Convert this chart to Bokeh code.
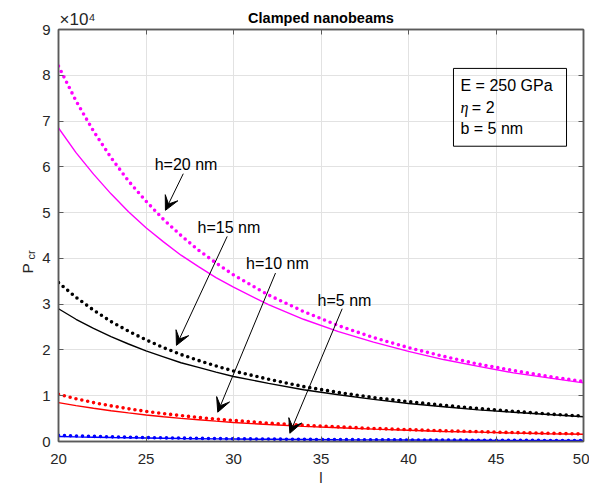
import numpy as np
from bokeh.plotting import figure
from bokeh.models import Range1d, FixedTicker, Label, Arrow, VeeHead, BoxAnnotation, Title, LinearAxis
from bokeh.embed import file_html
from bokeh.resources import INLINE

# ---------------- data ----------------
L = [20, 21, 22, 23, 24, 25, 26, 27, 28, 29, 30, 32, 34, 36, 38, 40, 42, 44, 46, 48, 50]

h20_dotted = [82000, 74400, 67800, 62000, 56900, 52500, 48500, 45000, 41800, 39000, 36400,
              32000, 28400, 25300, 22700, 20500, 18600, 16900, 15500, 14200, 13100]
h20_solid = [68500, 63100, 58400, 54100, 50200, 46700, 43600, 40700, 38200, 35800, 33700,
             29900, 26700, 24000, 21700, 19700, 17900, 16400, 15000, 13900, 12800]

h15_dotted = [34700, 31500, 28700, 26200, 24100, 22200, 20500, 19000, 17700, 16500, 15400,
              13600, 12000, 10700, 9600, 8700, 7900, 7200, 6600, 6000, 5550]
h15_solid = [29000, 26700, 24700, 22900, 21300, 19800, 18500, 17200, 16200, 15150, 14200,
             12700, 11300, 10200, 9200, 8300, 7600, 6900, 6400, 5900, 5400]

h10_dotted = [10300, 9340, 8500, 7790, 7150, 6590, 6100, 5650, 5250, 4900, 4600,
              4000, 3550, 3200, 2850, 2600, 2350, 2150, 1950, 1800, 1650]
h10_solid = [8500, 7830, 7250, 6710, 6250, 5800, 5400, 5050, 4750, 4440, 4150,
             3700, 3300, 3000, 2700, 2450, 2200, 2050, 1850, 1700, 1600]

h5_dotted = [1350, 1220, 1120, 1020, 940, 860, 800, 740, 690, 640, 600,
             530, 470, 420, 370, 340, 310, 280, 260, 230, 220]
h5_solid = [1100, 1010, 940, 870, 810, 750, 700, 650, 610, 575, 540,
            480, 430, 385, 350, 315, 290, 265, 240, 220, 205]

colors = ["#ff00ff", "#000000", "#ff0000", "#0000ff"]

x_ticks = [20, 25, 30, 35, 40, 45, 50]
y_ticks = [0, 10000, 20000, 30000, 40000, 50000, 60000, 70000, 80000, 90000]
y_tick_labels = ["0", "1", "2", "3", "4", "5", "6", "7", "8", "9"]

ann_texts = ["h=20 nm", "h=15 nm", "h=10 nm", "h=5 nm"]
info_texts = ["E = 250 GPa", "= 2", "b = 5 nm"]

# annotation layout (text centre, arrow start, arrow end) in data units
ann_text_pos = [(27.29, 60500), (29.74, 46750), (32.51, 38900), (36.34, 30800)]
ann_arrows = [((27.13, 58500), (26.11, 50500)),
              ((29.64, 44800), (26.74, 21000)),
              ((32.40, 36800), (29.10, 6400)),
              ((36.21, 29000), (33.22, 1800))]

FONT = "Liberation Sans"
TICK_COLOR = "#262626"
AXIS_COLOR = "#5a5a5a"

p = figure(width=589, height=488, output_backend="svg", toolbar_location=None,
           x_range=Range1d(20, 50), y_range=Range1d(0, 90000),
           min_border_left=58, min_border_right=6, min_border_top=29, min_border_bottom=47,
           x_axis_label="l")
p.outline_line_color = AXIS_COLOR
p.outline_line_width = 1.5
p.background_fill_color = "white"
p.border_fill_color = "white"

xa = p.below[0]
ya = p.left[0]

# box axes on top and right: inward ticks, no labels
for loc, tk in (("above", x_ticks), ("right", y_ticks)):
    bax = LinearAxis(ticker=FixedTicker(ticks=tk))
    bax.major_label_overrides = {t: "" for t in tk}
    bax.major_label_text_font_size = "1px"
    bax.major_label_standoff = 0
    bax.axis_line_color = AXIS_COLOR
    bax.axis_line_width = 1.5
    bax.major_tick_line_color = AXIS_COLOR
    bax.major_tick_in = 5
    bax.major_tick_out = 0
    bax.minor_tick_line_color = None
    p.add_layout(bax, loc)

# exponent (inner title row of the top panel)
p.add_layout(Title(text="×10⁴", align="left", offset=1, standoff=1, text_font=FONT,
                   text_font_size="17px", text_font_style="normal", text_color=TICK_COLOR), "above")

# main title (outer row, pulled down onto the same line)
p.title.text = "Clamped nanobeams"
p.title.align = "center"
p.title.text_font = FONT
p.title.text_font_style = "bold"
p.title.text_font_size = "14.5px"
p.title.text_color = "black"
p.title.standoff = -36

# y label P_cr : subscript nearer the frame, then P
p.add_layout(Title(text="cr", align="left", offset=182, standoff=6, text_font=FONT,
                   text_font_size="11px", text_font_style="normal", text_color=TICK_COLOR), "left")
p.add_layout(Title(text="P", align="left", offset=168, standoff=-32, text_font=FONT,
                   text_font_size="15.5px", text_font_style="normal", text_color=TICK_COLOR), "left")

# grid
p.xgrid.ticker = FixedTicker(ticks=x_ticks)
p.ygrid.ticker = FixedTicker(ticks=y_ticks)
for g in (p.xgrid[0], p.ygrid[0]):
    g.grid_line_color = "#e2e2e2"
    g.grid_line_width = 1

# main axes
xa.ticker = FixedTicker(ticks=x_ticks)
ya.ticker = FixedTicker(ticks=y_ticks)
ya.major_label_overrides = {t: s for t, s in zip(y_ticks, y_tick_labels)}
for ax in (xa, ya):
    ax.axis_line_color = AXIS_COLOR
    ax.axis_line_width = 1.5
    ax.major_tick_line_color = AXIS_COLOR
    ax.major_tick_in = 5
    ax.major_tick_out = 0
    ax.minor_tick_line_color = None
    ax.major_label_text_font = FONT
    ax.major_label_text_font_size = "15px"
    ax.major_label_text_color = TICK_COLOR
xa.major_label_standoff = 12
ya.major_label_standoff = 8
xa.axis_label_text_font = FONT
xa.axis_label_text_font_size = "15px"
xa.axis_label_text_font_style = "normal"
xa.axis_label_text_color = TICK_COLOR
xa.axis_label_standoff = 2

# curves
series = [(h20_dotted, h20_solid), (h15_dotted, h15_solid), (h10_dotted, h10_solid), (h5_dotted, h5_solid)]
for (dot, sol), c in zip(series, colors):
    p.line(L, sol, line_color=c, line_width=1.4)
    p.line(L, dot, line_color=c, line_width=3.6, line_dash="0 6", line_cap="round")

# annotations with arrows
for txt, (tx, ty), ((xs, ys), (xe, ye)) in zip(ann_texts, ann_text_pos, ann_arrows):
    p.add_layout(Arrow(end=VeeHead(size=14, fill_color="black", line_color="black", line_width=1),
                       x_start=xs, y_start=ys, x_end=xe, y_end=ye,
                       line_color="black", line_width=1))
    p.add_layout(Label(x=tx, y=ty, text=txt, text_align="center", text_baseline="middle",
                       text_font=FONT, text_font_size="16px", text_color="black"))

# info box
p.add_layout(BoxAnnotation(left=42.57, right=49.03, top=81500, bottom=64500,
                           fill_color=None, line_color="black", line_width=1, line_alpha=1))
p.add_layout(Label(x=42.97, y=77800, text=info_texts[0], text_align="left", text_baseline="middle",
                   text_font=FONT, text_font_size="16px", text_color="black"))
p.add_layout(Label(x=42.97, y=73000, text="η", text_align="left", text_baseline="middle",
                   text_font="Liberation Serif", text_font_style="italic", text_font_size="16px",
                   text_color="black"))
p.add_layout(Label(x=43.62, y=73000, text=info_texts[1], text_align="left", text_baseline="middle",
                   text_font=FONT, text_font_size="16px", text_color="black"))
p.add_layout(Label(x=42.97, y=68300, text=info_texts[2], text_align="left", text_baseline="middle",
                   text_font=FONT, text_font_size="16px", text_color="black"))

open("out.html", "w").write(file_html(p, INLINE))
